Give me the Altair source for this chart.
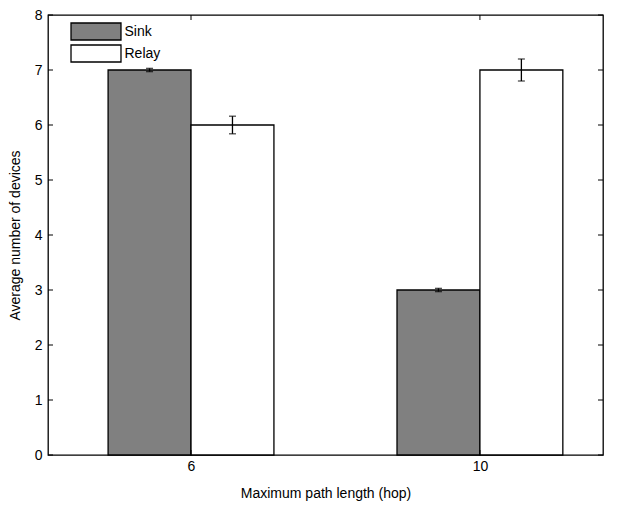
import altair as alt
import pandas as pd

categories = ["6", "10"]
positions = [1, 2]
series = ["Sink", "Relay"]
sink_vals = [7.0, 3.0]
relay_vals = [6.0, 7.0]
sink_err = [0.03, 0.03]
relay_err = [0.16, 0.2]
y_ticks = [0, 1, 2, 3, 4, 5, 6, 7, 8]

BW = 0.287
rows = []
for p, c, sv, se, rv, re in zip(positions, categories, sink_vals, sink_err, relay_vals, relay_err):
    rows.append(dict(series="Sink", cat=c, x0=p - BW, x1=p, xc=p - BW / 2, v=sv, lo=sv - se, hi=sv + se))
    rows.append(dict(series="Relay", cat=c, x0=p, x1=p + BW, xc=p + BW / 2, v=rv, lo=rv - re, hi=rv + re))
df = pd.DataFrame(rows)

W, H = 555, 440
xscale = alt.Scale(domain=[0.505, 2.426], nice=False, zero=False)
yscale = alt.Scale(domain=[0, 8], nice=False)
FONT = "Liberation Sans"

label_expr = "datum.value == 1 ? '6' : (datum.value == 2 ? '10' : '')"

bars = alt.Chart(df).mark_bar(stroke="black", strokeWidth=1.3).encode(
    x=alt.X("x0:Q", scale=xscale,
            axis=alt.Axis(values=positions, labelExpr=label_expr, title="Maximum path length (hop)",
                          grid=False, domain=False, tickSize=0, labelPadding=4, titlePadding=13)),
    x2="x1:Q",
    y=alt.Y("v:Q", scale=yscale,
            axis=alt.Axis(values=y_ticks, title="Average number of devices", grid=False,
                          domain=False, tickSize=0, labelPadding=6, titlePadding=12)),
    y2=alt.datum(0),
    fill=alt.Fill("series:N", scale=alt.Scale(domain=series, range=["#808080", "#ffffff"]),
                  legend=alt.Legend(title=None, orient="none", legendX=38.5, legendY=7,
                                    symbolType="M-2.94,-1H2.94V1H-2.94Z", symbolSize=289,
                                    symbolStrokeColor="black", symbolStrokeWidth=1.3,
                                    labelFontSize=14, labelFont=FONT, labelColor="black",
                                    labelOffset=19, rowPadding=-1, padding=0)),
)

err = alt.Chart(df).mark_rule(color="black", strokeWidth=1.3).encode(
    x=alt.X("xc:Q", scale=xscale), y=alt.Y("lo:Q", scale=yscale), y2="hi:Q")
cap_lo = alt.Chart(df).mark_tick(color="black", orient="horizontal", size=7, thickness=1.3).encode(
    x=alt.X("xc:Q", scale=xscale), y=alt.Y("lo:Q", scale=yscale))
cap_hi = alt.Chart(df).mark_tick(color="black", orient="horizontal", size=7, thickness=1.3).encode(
    x=alt.X("xc:Q", scale=xscale), y=alt.Y("hi:Q", scale=yscale))

ydf = pd.DataFrame({"t": y_ticks})
xdf = pd.DataFrame({"t": positions})
yt_left = alt.Chart(ydf).mark_rule(color="black", strokeWidth=1).encode(
    y=alt.Y("t:Q", scale=yscale), x=alt.value(0), x2=alt.value(5))
yt_right = alt.Chart(ydf).mark_rule(color="black", strokeWidth=1).encode(
    y=alt.Y("t:Q", scale=yscale), x=alt.value(W - 5), x2=alt.value(W))
xt_bot = alt.Chart(xdf).mark_rule(color="black", strokeWidth=1).encode(
    x=alt.X("t:Q", scale=xscale), y=alt.value(H - 5), y2=alt.value(H))
xt_top = alt.Chart(xdf).mark_rule(color="black", strokeWidth=1).encode(
    x=alt.X("t:Q", scale=xscale), y=alt.value(0), y2=alt.value(5))

chart = alt.layer(bars, err, cap_lo, cap_hi, yt_left, yt_right, xt_bot, xt_top).properties(
    width=W, height=H,
    autosize=alt.AutoSizeParams(type="none"),
    padding={"left": 40, "top": 7, "right": 7, "bottom": 60},
    background="white",
).configure_view(stroke="black", strokeWidth=1.3).configure_axis(
    labelFont=FONT, titleFont=FONT, labelFontSize=14, titleFontSize=14,
    labelColor="black", titleColor="black", titleFontWeight="normal"
)

chart.save("out.html", embed_options={"renderer": "svg", "actions": False})
